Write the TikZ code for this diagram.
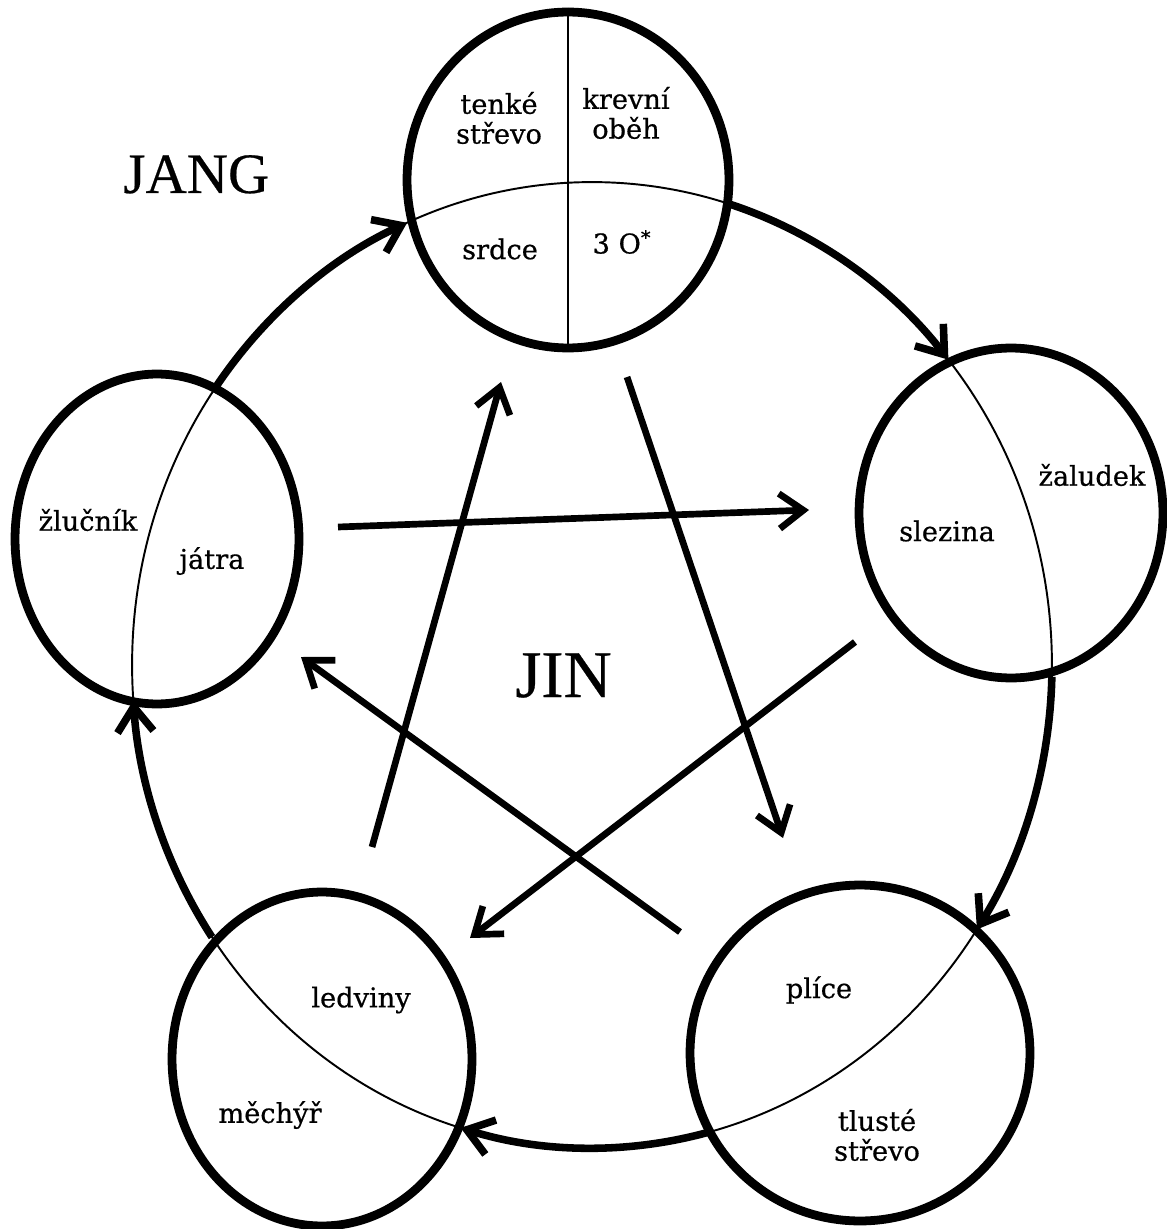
\documentclass[tikz,border=0pt]{standalone}
\usepackage{fontspec}
\setmainfont{DejaVu Serif}[FakeBold=0.6]
\newfontfamily\yfont{Liberation Serif}[FakeBold=0.4]
\usetikzlibrary{shapes.geometric,arrows.meta}
\begin{document}
\begin{tikzpicture}[x=0.02cm,y=-0.02cm,
  organ/.style={draw,ellipse,line width=5pt,inner sep=0pt},
  cyc/.style={line width=4.3pt,-{Straight Barb[length=0.5cm,width=0.72cm]}},
  thinline/.style={line width=1.1pt},
  ctrl/.style={line width=3.8pt,-{Straight Barb[length=0.48cm,width=0.7cm]}},
  lab/.style={font=\fontsize{15.5}{17}\selectfont,align=center,inner sep=0pt},
  yy/.style={font=\yfont\fontsize{#1}{#1}\selectfont,inner sep=0pt,anchor=base west},
]
\useasboundingbox (0,0) rectangle (1166,1229);
\coordinate (C) at (592,665);
% thin big cycle (visible inside the organs)
\draw[thinline] (C) ellipse [x radius=9.2cm,y radius=9.66cm];
% cycle end points
\foreach \n/\a in {Lout/215.2,Tin/246.3,Tout/287.0,Rin/320.8,Rout/1.4,BRin/33.2,BRout/75.5,BLin/106.6,BLout/145.7,Lin/175.8}
  \coordinate (\n) at ({592+460*cos(\a)},{665+483*sin(\a)});
% thick arcs with arrows (clockwise)
\draw[cyc] (Lout) arc[start angle=-215.2,end angle=-246.3,x radius=9.2cm,y radius=9.66cm];
\draw[cyc] (Tout) arc[start angle=-287.0,end angle=-320.8,x radius=9.2cm,y radius=9.66cm];
\draw[cyc] (Rout) arc[start angle=-1.4,end angle=-33.2,x radius=9.2cm,y radius=9.66cm];
\draw[cyc] (BRout) arc[start angle=-75.5,end angle=-106.6,x radius=9.2cm,y radius=9.66cm];
\draw[cyc] (BLout) arc[start angle=-145.7,end angle=-175.8,x radius=9.2cm,y radius=9.66cm];
% organs
\node[organ,minimum width=6.44cm,minimum height=6.72cm] (T) at (568,180) {};
\node[organ,minimum width=5.68cm,minimum height=6.6cm] (L) at (157,539) {};
\node[organ,minimum width=6.08cm,minimum height=6.6cm] (R) at (1011,513) {};
\node[organ,minimum width=6.0cm,minimum height=6.68cm] (BL) at (322,1059) {};
\node[organ,minimum width=6.8cm,minimum height=6.72cm] (BR) at (860,1053) {};
\draw[thinline] (T.north) -- (T.south);
% labels
\node[lab] (t1) at (499,118) {tenké\\střevo};
\node[lab] (t2) at (626,113) {krevní\\oběh};
\node[lab] (t3) at (500,249) {srdce};
\node[lab] (t4) at (622,242) {3 O\textsuperscript{*}};
\node[lab] (l1) at (88,520) {žlučník};
\node[lab] (l2) at (212,561) {játra};
\node[lab] (r1) at (1092,475) {žaludek};
\node[lab] (r2) at (947,531) {slezina};
\node[lab] (b1) at (361,1000) {ledviny};
\node[lab] (b2) at (270,1115) {měchýř};
\node[lab] (c1) at (819,990) {plíce};
\node[lab] (c2) at (877,1135) {tlusté\\střevo};
\node[yy=32.5pt] (jang) at (123,193) {JANG};
\node[yy=38pt] (jin) at (515,697) {JIN};
% control (pentagram) arrows
\coordinate (p1s) at (338,527); \coordinate (p1e) at (809,510);
\coordinate (p2s) at (372,847); \coordinate (p2e) at (501,382);
\coordinate (p3s) at (627,377); \coordinate (p3e) at (783,838);
\coordinate (p4s) at (855,642); \coordinate (p4e) at (470,938);
\coordinate (p5s) at (680,932); \coordinate (p5e) at (301,657);
\draw[ctrl] (p1s) -- (p1e);
\draw[ctrl] (p2s) -- (p2e);
\draw[ctrl] (p3s) -- (p3e);
\draw[ctrl] (p4s) -- (p4e);
\draw[ctrl] (p5s) -- (p5e);
\end{tikzpicture}
\end{document}
